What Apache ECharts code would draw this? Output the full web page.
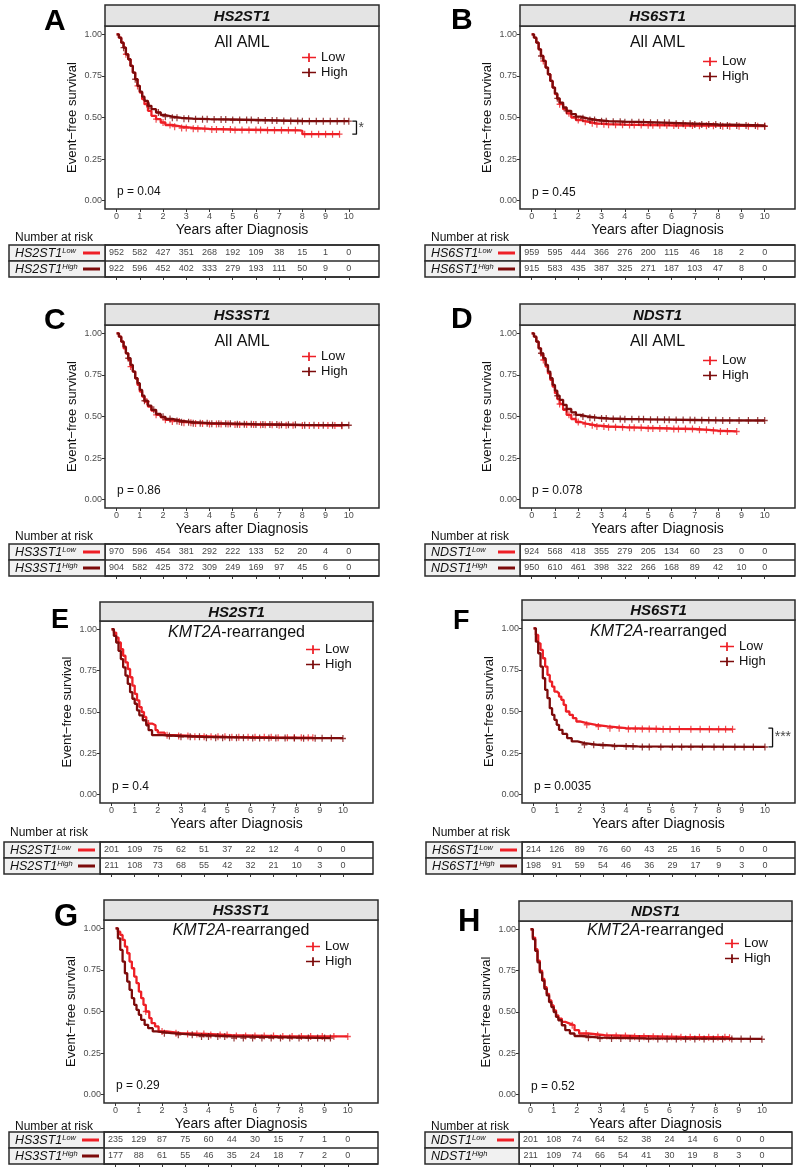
<!DOCTYPE html>
<html>
<head>
<meta charset="utf-8">
<title>Event-free survival by HS gene expression</title>
<script src="https://cdn.jsdelivr.net/npm/echarts@6/dist/echarts.min.js"></script>
<style>
  html, body { margin: 0; padding: 0; background: #fff; }
  #chart { width: 800px; height: 1173px; }
</style>
</head>
<body>
<div id="chart"></div>
<script>
var years = [0, 1, 2, 3, 4, 5, 6, 7, 8, 9, 10];
var yTicks = [0, 0.25, 0.5, 0.75, 1];

// KM curves: [years, survival after the step]
var A_low = [[0,1],[0.1,0.98],[0.2,0.95],[0.3,0.92],[0.4,0.88],[0.5,0.85],[0.6,0.81],[0.7,0.77],[0.8,0.73],[0.9,0.69],[1.0,0.65],[1.1,0.61],[1.2,0.58],[1.35,0.54],[1.5,0.51],[1.7,0.49],[1.9,0.47],[2.1,0.455],[2.4,0.445],[2.8,0.437],[3.3,0.432],[4.0,0.428],[5.0,0.425],[6.5,0.423],[7.9,0.42],[8.0,0.40],[9.6,0.40]];
var A_high = [[0,1],[0.1,0.98],[0.2,0.95],[0.3,0.92],[0.4,0.88],[0.5,0.85],[0.6,0.81],[0.7,0.77],[0.8,0.73],[0.9,0.69],[1.0,0.655],[1.1,0.625],[1.2,0.6],[1.35,0.57],[1.5,0.55],[1.7,0.53],[1.9,0.515],[2.1,0.505],[2.4,0.498],[2.8,0.493],[3.3,0.49],[4.0,0.488],[5.0,0.485],[6.0,0.482],[7.0,0.479],[8.0,0.478],[10.0,0.478]];
var B_low = [[0,1],[0.1,0.98],[0.2,0.95],[0.3,0.91],[0.4,0.87],[0.5,0.84],[0.6,0.8],[0.7,0.76],[0.8,0.72],[0.9,0.68],[1.0,0.64],[1.1,0.61],[1.2,0.58],[1.35,0.55],[1.5,0.525],[1.7,0.5],[1.9,0.485],[2.1,0.475],[2.4,0.465],[2.8,0.46],[3.3,0.457],[4.0,0.455],[5.0,0.453],[6.0,0.452],[7.0,0.451],[8.0,0.448],[10.0,0.447]];
var B_high = [[0,1],[0.1,0.98],[0.2,0.95],[0.3,0.91],[0.4,0.87],[0.5,0.84],[0.6,0.8],[0.7,0.76],[0.8,0.72],[0.9,0.68],[1.0,0.645],[1.1,0.615],[1.2,0.59],[1.35,0.56],[1.5,0.54],[1.7,0.52],[1.9,0.505],[2.1,0.495],[2.4,0.485],[2.8,0.478],[3.3,0.475],[4.0,0.472],[5.0,0.468],[6.0,0.463],[7.0,0.458],[8.0,0.452],[10.0,0.447]];
var C_low = [[0,1],[0.1,0.98],[0.2,0.95],[0.3,0.91],[0.4,0.88],[0.5,0.84],[0.6,0.8],[0.7,0.77],[0.8,0.73],[0.9,0.69],[1.0,0.65],[1.1,0.62],[1.2,0.59],[1.35,0.56],[1.5,0.535],[1.7,0.51],[1.9,0.495],[2.1,0.48],[2.4,0.47],[2.8,0.463],[3.3,0.458],[4.0,0.455],[5.0,0.452],[6.0,0.45],[7.0,0.448],[8.0,0.446],[9.7,0.445]];
var C_high = [[0,1],[0.1,0.98],[0.2,0.95],[0.3,0.92],[0.4,0.88],[0.5,0.85],[0.6,0.81],[0.7,0.77],[0.8,0.73],[0.9,0.7],[1.0,0.66],[1.1,0.625],[1.2,0.595],[1.35,0.565],[1.5,0.54],[1.7,0.515],[1.9,0.498],[2.1,0.485],[2.4,0.473],[2.8,0.466],[3.3,0.46],[4.0,0.457],[5.0,0.454],[6.0,0.452],[7.0,0.45],[8.0,0.448],[10.0,0.447]];
var D_low = [[0,1],[0.1,0.98],[0.2,0.95],[0.3,0.91],[0.4,0.87],[0.5,0.84],[0.6,0.8],[0.7,0.76],[0.8,0.72],[0.9,0.68],[1.0,0.64],[1.1,0.605],[1.2,0.575],[1.35,0.54],[1.5,0.51],[1.7,0.485],[1.9,0.467],[2.1,0.455],[2.4,0.447],[2.8,0.44],[3.3,0.436],[4.0,0.432],[5.0,0.428],[6.0,0.425],[7.0,0.42],[7.6,0.415],[8.0,0.41],[8.8,0.41]];
var D_high = [[0,1],[0.1,0.98],[0.2,0.95],[0.3,0.91],[0.4,0.88],[0.5,0.85],[0.6,0.81],[0.7,0.77],[0.8,0.73],[0.9,0.69],[1.0,0.655],[1.1,0.625],[1.2,0.6],[1.35,0.57],[1.5,0.545],[1.7,0.525],[1.9,0.51],[2.1,0.5],[2.4,0.493],[2.8,0.488],[3.3,0.485],[4.0,0.483],[5.0,0.481],[6.0,0.479],[7.0,0.477],[8.0,0.476],[10.0,0.476]];
var E_low = [[0,1],[0.1,0.98],[0.2,0.95],[0.3,0.92],[0.4,0.88],[0.5,0.84],[0.6,0.8],[0.7,0.76],[0.8,0.71],[0.9,0.66],[1.0,0.61],[1.1,0.57],[1.2,0.53],[1.3,0.5],[1.4,0.47],[1.5,0.43],[1.75,0.42],[1.9,0.39],[2.0,0.375],[2.3,0.36],[2.7,0.355],[3.5,0.35],[5.0,0.347],[7.0,0.345],[8.7,0.345]];
var E_high = [[0,1],[0.1,0.96],[0.2,0.92],[0.3,0.87],[0.4,0.82],[0.5,0.77],[0.6,0.72],[0.7,0.67],[0.8,0.62],[0.9,0.58],[1.0,0.55],[1.1,0.51],[1.2,0.48],[1.35,0.45],[1.5,0.42],[1.6,0.39],[1.75,0.36],[2.2,0.355],[3.0,0.35],[4.0,0.345],[6.0,0.343],[8.0,0.342],[10.0,0.34]];
var F_low = [[0,1],[0.1,0.96],[0.2,0.91],[0.3,0.87],[0.4,0.82],[0.5,0.77],[0.6,0.72],[0.7,0.68],[0.8,0.65],[0.9,0.62],[1.0,0.61],[1.1,0.59],[1.2,0.57],[1.3,0.54],[1.4,0.5],[1.55,0.48],[1.7,0.46],[1.85,0.44],[2.0,0.43],[2.3,0.42],[2.7,0.41],[3.2,0.4],[4.0,0.395],[5.5,0.393],[8.6,0.393]];
var F_high = [[0,1],[0.1,0.92],[0.2,0.85],[0.3,0.77],[0.4,0.7],[0.5,0.63],[0.6,0.58],[0.7,0.52],[0.8,0.48],[0.9,0.45],[1.0,0.42],[1.1,0.39],[1.25,0.365],[1.45,0.34],[1.65,0.32],[1.9,0.31],[2.2,0.3],[2.8,0.295],[3.5,0.29],[4.5,0.287],[10.0,0.287]];
var G_low = [[0,1],[0.1,0.98],[0.2,0.96],[0.3,0.93],[0.4,0.89],[0.5,0.85],[0.6,0.8],[0.7,0.76],[0.8,0.71],[0.9,0.67],[1.0,0.62],[1.1,0.58],[1.2,0.54],[1.3,0.5],[1.45,0.46],[1.55,0.43],[1.7,0.41],[1.85,0.38],[2.2,0.37],[2.8,0.365],[3.9,0.358],[5.0,0.352],[7.0,0.35],[10.0,0.35]];
var G_high = [[0,1],[0.1,0.94],[0.2,0.87],[0.3,0.8],[0.4,0.73],[0.5,0.68],[0.6,0.63],[0.7,0.58],[0.8,0.54],[0.9,0.51],[1.0,0.48],[1.1,0.45],[1.25,0.42],[1.4,0.4],[1.6,0.38],[1.75,0.37],[2.4,0.36],[3.5,0.35],[5.0,0.34],[9.25,0.34]];
var H_low = [[0,1],[0.1,0.95],[0.2,0.88],[0.3,0.81],[0.4,0.75],[0.5,0.7],[0.6,0.65],[0.7,0.61],[0.8,0.57],[0.9,0.54],[1.0,0.51],[1.1,0.48],[1.2,0.46],[1.35,0.44],[1.5,0.43],[1.7,0.42],[1.9,0.39],[2.1,0.37],[2.5,0.36],[3.2,0.355],[4.5,0.35],[6.5,0.348],[8.6,0.345]];
var H_high = [[0,1],[0.1,0.94],[0.2,0.87],[0.3,0.8],[0.4,0.74],[0.5,0.69],[0.6,0.64],[0.7,0.6],[0.8,0.56],[0.9,0.53],[1.0,0.5],[1.1,0.47],[1.2,0.45],[1.35,0.42],[1.5,0.39],[1.7,0.37],[1.9,0.355],[2.2,0.345],[3.0,0.34],[5.0,0.337],[10.0,0.335]];

// censoring times (years)
var A_lowCens = [0.4,0.9,1.3,1.7,2.0,2.3,2.5,2.8,3.0,3.3,3.5,3.8,4.1,4.3,4.6,4.9,5.1,5.4,5.7,6.0,6.2,6.5,6.8,7.1,7.4,7.7,8.1,8.4,8.7,9.0,9.3,9.6];
var A_highCens = [0.3,0.8,1.4,1.8,2.1,2.4,2.6,2.9,3.1,3.4,3.7,3.9,4.2,4.5,4.7,5.0,5.3,5.6,5.8,6.1,6.4,6.7,6.9,7.2,7.5,7.8,8.0,8.3,8.6,8.9,9.2,9.5,9.8,10.0];
var B_lowCens = [0.5,1.2,1.6,2.0,2.3,2.6,2.8,3.1,3.3,3.6,3.9,4.2,4.4,4.7,5.0,5.2,5.5,5.8,6.1,6.3,6.6,6.9,7.2,7.5,7.8,8.2,8.5,8.9,9.3,9.7,10.0];
var B_highCens = [0.4,1.1,1.5,1.9,2.2,2.5,2.7,3.0,3.2,3.5,3.8,4.0,4.3,4.6,4.8,5.1,5.4,5.7,5.9,6.2,6.5,6.8,7.0,7.3,7.6,7.9,8.1,8.4,8.8,9.2,9.6,10.0];
var C_lowCens = [0.6,1.3,1.7,2.1,2.4,2.7,2.9,3.2,3.4,3.7,4.0,4.3,4.5,4.8,5.1,5.3,5.6,5.9,6.2,6.4,6.7,7.0,7.3,7.6,8.0,8.3,8.7,9.1,9.4,9.7];
var C_highCens = [0.5,1.2,1.6,2.0,2.3,2.6,2.8,3.1,3.3,3.6,3.9,4.1,4.4,4.7,4.9,5.2,5.5,5.8,6.0,6.3,6.6,6.9,7.1,7.4,7.7,8.1,8.5,8.9,9.3,9.7,10.0];
var D_lowCens = [0.5,1.2,1.6,2.0,2.3,2.6,2.8,3.1,3.3,3.6,3.9,4.2,4.4,4.7,5.0,5.2,5.5,5.8,6.1,6.3,6.6,6.9,7.2,7.5,7.8,8.1,8.4,8.8];
var D_highCens = [0.4,1.1,1.5,1.9,2.2,2.5,2.7,3.0,3.2,3.5,3.8,4.0,4.3,4.6,4.8,5.1,5.4,5.7,5.9,6.2,6.5,6.8,7.0,7.3,7.6,7.9,8.2,8.5,8.9,9.3,9.7,10.0];
var E_lowCens = [1.6,2.4,2.9,3.3,3.6,4.0,4.3,4.6,4.9,5.2,5.5,5.9,6.2,6.6,6.9,7.2,7.6,7.9,8.2,8.5,8.7];
var E_highCens = [2.5,3.0,3.4,3.8,4.1,4.5,4.8,5.1,5.4,5.7,6.1,6.4,6.8,7.1,7.5,7.9,8.3,8.8,9.1,9.5,10.0];
var F_lowCens = [2.3,2.8,3.3,3.7,4.1,4.4,4.7,5.0,5.3,5.6,5.9,6.3,6.8,7.2,7.6,8.0,8.3,8.6];
var F_highCens = [2.2,2.6,3.0,3.5,4.0,4.3,4.7,5.0,5.5,6.0,6.4,6.8,7.3,7.8,8.2,8.7,9.1,9.5,10.0];
var G_lowCens = [1.3,2.0,2.6,3.1,3.5,3.8,4.1,4.5,4.8,5.2,5.6,6.0,6.4,6.8,7.2,7.6,8.0,8.4,8.9,9.4,10.0];
var G_highCens = [2.1,2.7,3.3,3.7,4.0,4.4,4.7,5.1,5.5,5.9,6.3,6.7,7.1,7.5,7.9,8.3,8.7,9.0,9.25];
var H_lowCens = [1.8,2.4,2.9,3.3,3.7,4.1,4.5,4.9,5.3,5.7,6.1,6.5,6.9,7.3,7.7,8.1,8.4,8.6];
var H_highCens = [2.5,3.0,3.5,3.9,4.3,4.7,5.1,5.5,5.9,6.3,6.7,7.1,7.5,7.9,8.3,8.7,9.1,9.5,10.0];

// number at risk at years 0..10
var A_lowRisk = [952,582,427,351,268,192,109,38,15,1,0];
var A_highRisk = [922,596,452,402,333,279,193,111,50,9,0];
var B_lowRisk = [959,595,444,366,276,200,115,46,18,2,0];
var B_highRisk = [915,583,435,387,325,271,187,103,47,8,0];
var C_lowRisk = [970,596,454,381,292,222,133,52,20,4,0];
var C_highRisk = [904,582,425,372,309,249,169,97,45,6,0];
var D_lowRisk = [924,568,418,355,279,205,134,60,23,0,0];
var D_highRisk = [950,610,461,398,322,266,168,89,42,10,0];
var E_lowRisk = [201,109,75,62,51,37,22,12,4,0,0];
var E_highRisk = [211,108,73,68,55,42,32,21,10,3,0];
var F_lowRisk = [214,126,89,76,60,43,25,16,5,0,0];
var F_highRisk = [198,91,59,54,46,36,29,17,9,3,0];
var G_lowRisk = [235,129,87,75,60,44,30,15,7,1,0];
var G_highRisk = [177,88,61,55,46,35,24,18,7,2,0];
var H_lowRisk = [201,108,74,64,52,38,24,14,6,0,0];
var H_highRisk = [211,109,74,66,54,41,30,19,8,3,0];

var panels = [
  {key: 'A', gene: 'HS2ST1', cohort: 'all', pval: 'p = 0.04', low: A_low, high: A_high, lowCens: A_lowCens, highCens: A_highCens, lowRisk: A_lowRisk, highRisk: A_highRisk, sig: {lo: 0.40, hi: 0.478, mark: '*'}},
  {key: 'B', gene: 'HS6ST1', cohort: 'all', pval: 'p = 0.45', low: B_low, high: B_high, lowCens: B_lowCens, highCens: B_highCens, lowRisk: B_lowRisk, highRisk: B_highRisk},
  {key: 'C', gene: 'HS3ST1', cohort: 'all', pval: 'p = 0.86', low: C_low, high: C_high, lowCens: C_lowCens, highCens: C_highCens, lowRisk: C_lowRisk, highRisk: C_highRisk},
  {key: 'D', gene: 'NDST1', cohort: 'all', pval: 'p = 0.078', low: D_low, high: D_high, lowCens: D_lowCens, highCens: D_highCens, lowRisk: D_lowRisk, highRisk: D_highRisk},
  {key: 'E', gene: 'HS2ST1', cohort: 'kmt2a', pval: 'p = 0.4', low: E_low, high: E_high, lowCens: E_lowCens, highCens: E_highCens, lowRisk: E_lowRisk, highRisk: E_highRisk},
  {key: 'F', gene: 'HS6ST1', cohort: 'kmt2a', pval: 'p = 0.0035', low: F_low, high: F_high, lowCens: F_lowCens, highCens: F_highCens, lowRisk: F_lowRisk, highRisk: F_highRisk, sig: {lo: 0.287, hi: 0.40, mark: '***'}},
  {key: 'G', gene: 'HS3ST1', cohort: 'kmt2a', pval: 'p = 0.29', low: G_low, high: G_high, lowCens: G_lowCens, highCens: G_highCens, lowRisk: G_lowRisk, highRisk: G_highRisk},
  {key: 'H', gene: 'NDST1', cohort: 'kmt2a', pval: 'p = 0.52', low: H_low, high: H_high, lowCens: H_lowCens, highCens: H_highCens, lowRisk: H_lowRisk, highRisk: H_highRisk, noHighSeg: true}
];

// page layout (pixels)
var layout = {
  A: {L: 105, W: 274, HT: 5,   HH: 21, PH: 183, TL: 9,   TT: 245,  letter: [44, 22, 30],  narY: 238,  legX: 302, lowY: 58,  subY: 43,  pY: 192},
  B: {L: 520, W: 275, HT: 5,   HH: 21, PH: 183, TL: 425, TT: 245,  letter: [451, 21, 30], narY: 238,  legX: 703, lowY: 62,  subY: 43,  pY: 193},
  C: {L: 105, W: 274, HT: 304, HH: 21, PH: 183, TL: 9,   TT: 544,  letter: [44, 321, 30], narY: 537,  legX: 302, lowY: 357, subY: 342, pY: 491},
  D: {L: 520, W: 275, HT: 304, HH: 21, PH: 183, TL: 425, TT: 544,  letter: [451, 320, 30], narY: 537, legX: 703, lowY: 361, subY: 342, pY: 491},
  E: {L: 100, W: 273, HT: 602, HH: 19, PH: 182, TL: 4,   TT: 842,  letter: [51, 621, 27], narY: 833,  legX: 306, lowY: 650, subY: 633, pY: 787},
  F: {L: 522, W: 273, HT: 600, HH: 20, PH: 183, TL: 426, TT: 842,  letter: [453, 622, 27], narY: 833, legX: 720, lowY: 647, subY: 632, pY: 787},
  G: {L: 104, W: 274, HT: 900, HH: 20, PH: 183, TL: 9,   TT: 1132, letter: [54, 917, 31], narY: 1127, legX: 306, lowY: 947, subY: 931, pY: 1086},
  H: {L: 519, W: 273, HT: 901, HH: 20, PH: 182, TL: 425, TT: 1132, letter: [458, 922, 31], narY: 1127, legX: 725, lowY: 944, subY: 931, pY: 1087}
};

var FONT = '"Liberation Sans", Arial, Helvetica, sans-serif';
var LOW = '#ee1f26', HIGH = '#7c0b0b', EDGE = '#2b2b2b';
var plus = 'path://M0,4h10v2H0z M4,0h2v10H4z';
var legendIcon = 'path://M0,4.2h16v1.6H0z M7,0h2v10H7z';

function survAt(curve, t) {
  var s = curve[0][1];
  for (var i = 0; i < curve.length; i++) {
    if (curve[i][0] <= t) s = curve[i][1];
  }
  return s;
}

var grids = [], xAxes = [], yAxes = [], series = [], legends = [], graphics = [];

panels.forEach(function (p) {
  var g = layout[p.key];
  var PT = g.HT + g.HH;
  var pi = grids.length;
  var ti = pi + 1;

  grids.push({left: g.L, top: PT, width: g.W, height: g.PH, show: true, borderColor: EDGE, borderWidth: 1.5, backgroundColor: '#fff', outerBoundsMode: 'none'});
  grids.push({left: g.L, top: g.TT, width: g.W, height: 32, show: true, borderColor: EDGE, borderWidth: 1.5, backgroundColor: '#fff', outerBoundsMode: 'none'});

  xAxes.push({
    gridIndex: pi, type: 'value', min: -0.5, max: 11.3, position: 'bottom',
    axisLine: {show: false, onZero: false}, splitLine: {show: false},
    axisTick: {show: true, length: 3, customValues: years, lineStyle: {color: '#333', width: 1}},
    axisLabel: {customValues: years, fontSize: 9, color: '#4d4d4d', margin: 3, fontFamily: FONT},
    name: 'Years after Diagnosis', nameLocation: 'middle', nameGap: 14,
    nameTextStyle: {fontSize: 14, color: '#111', fontFamily: FONT}
  });
  xAxes.push({
    gridIndex: ti, type: 'value', min: -0.5, max: 11.3, position: 'bottom',
    axisLine: {show: false, onZero: false}, splitLine: {show: false},
    axisTick: {show: true, length: 3, customValues: years, lineStyle: {color: '#333', width: 1}},
    axisLabel: {show: false}
  });
  yAxes.push({
    gridIndex: pi, type: 'value', min: -0.05, max: 1.05, position: 'left',
    axisLine: {show: false, onZero: false}, splitLine: {show: false},
    axisTick: {show: true, length: 3, customValues: yTicks, lineStyle: {color: '#333', width: 1}},
    axisLabel: {customValues: yTicks, fontSize: 9, color: '#4d4d4d', margin: 3, fontFamily: FONT,
      formatter: function (v) { return v.toFixed(2); }},
    name: 'Event\u2212free survival', nameLocation: 'middle', nameGap: 26, nameRotate: 90,
    nameTextStyle: {fontSize: 13, color: '#111', fontFamily: FONT}
  });
  yAxes.push({
    gridIndex: ti, type: 'category', data: ['Low', 'High'], inverse: true,
    axisLine: {show: false, onZero: false}, axisTick: {show: false}, axisLabel: {show: false},
    splitLine: {show: true, lineStyle: {color: EDGE, width: 1.5}}
  });

  [['Low', p.low, p.lowCens, LOW, 2], ['High', p.high, p.highCens, HIGH, 3]].forEach(function (s) {
    series.push({
      type: 'line', name: s[0], xAxisIndex: pi, yAxisIndex: pi, data: s[1],
      step: 'end', symbol: 'none', color: s[3],
      lineStyle: {color: s[3], width: 2.3}, itemStyle: {color: s[3]}, z: s[4]
    });
    series.push({
      type: 'scatter', name: s[0] + ' censored', xAxisIndex: pi, yAxisIndex: pi,
      data: s[2].map(function (t) { return [t, survAt(s[1], t)]; }),
      symbol: plus, symbolSize: [6, 7], itemStyle: {color: s[3]}, z: s[4]
    });
  });

  var riskData = [];
  years.forEach(function (y, k) {
    riskData.push([y, 0, p.lowRisk[k]]);
    riskData.push([y, 1, p.highRisk[k]]);
  });
  series.push({
    type: 'scatter', name: 'risk', xAxisIndex: ti, yAxisIndex: ti, data: riskData,
    symbolSize: 1, itemStyle: {color: 'rgba(0,0,0,0)'},
    label: {show: true, position: 'inside', fontSize: 9, color: '#111', fontFamily: FONT,
      formatter: function (d) { return d.value[2]; }}
  });

  if (p.sig) {
    series.push({
      type: 'line', name: 'sig', xAxisIndex: pi, yAxisIndex: pi, symbol: 'none',
      data: [[10.15, p.sig.lo], [10.33, p.sig.lo], [10.33, p.sig.hi], [10.15, p.sig.hi]],
      lineStyle: {color: '#111', width: 1.3}, z: 5
    });
    series.push({
      type: 'scatter', name: 'sig', xAxisIndex: pi, yAxisIndex: pi, symbolSize: 1,
      data: [[10.4, (p.sig.lo + p.sig.hi) / 2]], itemStyle: {color: 'rgba(0,0,0,0)'},
      label: {show: true, position: 'right', distance: 0, formatter: p.sig.mark, fontSize: 14, color: '#111', fontFamily: FONT}
    });
  }

  legends.push({
    left: g.legX, top: g.lowY - 7, orient: 'vertical', itemGap: 2, padding: 0,
    itemWidth: 14, itemHeight: 9, selectedMode: false,
    textStyle: {fontSize: 13, color: '#111', fontFamily: FONT},
    data: [{name: 'Low', icon: legendIcon}, {name: 'High', icon: legendIcon}]
  });

  // strip header
  graphics.push({type: 'rect', z: 100, shape: {x: g.L, y: g.HT, width: g.W, height: g.HH},
    style: {fill: '#e4e4e4', stroke: EDGE, lineWidth: 1.5}});
  graphics.push({type: 'text', z: 101, x: g.L + g.W / 2, y: g.HT + g.HH / 2 + 1,
    style: {text: p.gene, fontSize: 15, fontWeight: 'bold', fontStyle: 'italic', fontFamily: FONT, fill: '#111', align: 'center', verticalAlign: 'middle'}});
  // cohort subtitle
  if (p.cohort === 'all') {
    graphics.push({type: 'text', z: 101, x: g.L + g.W / 2, y: g.subY,
      style: {text: 'All AML', fontSize: 16, fontFamily: FONT, fill: '#111', align: 'center', verticalAlign: 'middle'}});
  } else {
    graphics.push({type: 'text', z: 101, x: g.L + g.W / 2, y: g.subY,
      style: {text: '{i|KMT2A}-rearranged', fontSize: 16, fontFamily: FONT, fill: '#111', align: 'center', verticalAlign: 'middle',
        rich: {i: {fontSize: 16, fontStyle: 'italic', fontFamily: FONT, fill: '#111'}}}});
  }
  // p value
  graphics.push({type: 'text', z: 101, x: g.L + 12, y: g.pY,
    style: {text: p.pval, fontSize: 12, fontFamily: FONT, fill: '#111', align: 'left', verticalAlign: 'middle'}});
  // panel letter
  graphics.push({type: 'text', z: 101, x: g.letter[0], y: g.letter[1],
    style: {text: p.key, fontSize: g.letter[2], fontWeight: 'bold', fontFamily: FONT, fill: '#000', align: 'left', verticalAlign: 'middle'}});
  // risk table caption and row labels
  graphics.push({type: 'text', z: 101, x: g.TL + 6, y: g.narY,
    style: {text: 'Number at risk', fontSize: 12, fontFamily: FONT, fill: '#111', align: 'left', verticalAlign: 'middle'}});
  [['Low', LOW], ['High', HIGH]].forEach(function (row, r) {
    var y0 = g.TT + r * 16;
    graphics.push({type: 'rect', z: 100, shape: {x: g.TL, y: y0, width: g.L - g.TL, height: 16},
      style: {fill: '#f1f1f1', stroke: EDGE, lineWidth: 1.5}});
    graphics.push({type: 'text', z: 101, x: g.TL + 6, y: y0 + 8.5,
      style: {text: '{g|' + p.gene + '}{s|' + row[0] + '}', fontFamily: FONT, fill: '#111', align: 'left', verticalAlign: 'middle',
        rich: {g: {fontSize: 12.5, fontStyle: 'italic', fontFamily: FONT, fill: '#111'},
               s: {fontSize: 7.5, fontStyle: 'italic', fontFamily: FONT, fill: '#111', verticalAlign: 'top', padding: [0, 0, 5, 0]}}}});
    if (!(r === 1 && p.noHighSeg)) {
      graphics.push({type: 'rect', z: 101, shape: {x: g.L - 22, y: y0 + 6.5, width: 17, height: 3},
        style: {fill: row[1]}});
    }
  });
});

var chart = echarts.init(document.getElementById('chart'));
chart.setOption({
  animation: false,
  backgroundColor: '#fff',
  grid: grids,
  xAxis: xAxes,
  yAxis: yAxes,
  legend: legends,
  series: series,
  graphic: graphics
});
</script>
</body>
</html>
